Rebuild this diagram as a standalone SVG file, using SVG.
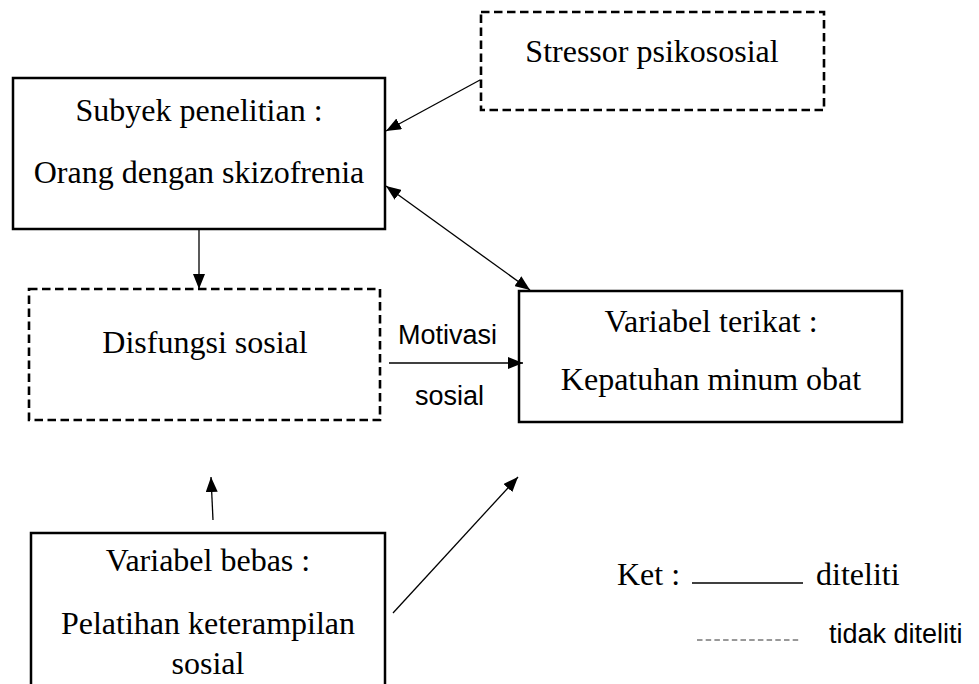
<svg xmlns="http://www.w3.org/2000/svg" width="979" height="684" viewBox="0 0 979 684">
  <style>
    .box { fill: #ffffff; stroke: #000000; stroke-width: 2.5; }
    .dbox { fill: none; stroke: #000000; stroke-width: 2.6; stroke-dasharray: 8.5 4.5; }
    .serif { font-family: "Liberation Serif", "Times New Roman", serif; font-size: 32px; fill: #000000; }
    .sans { font-family: "Liberation Sans", Arial, sans-serif; font-size: 27px; fill: #000000; }
    .conn { fill: none; stroke: #000000; stroke-width: 1.3; }
  </style>
  <defs>
    <marker id="ah" viewBox="0 0 15 12" refX="15" refY="6" markerWidth="15" markerHeight="12" markerUnits="userSpaceOnUse" orient="auto-start-reverse">
      <path d="M0,0 L15,6 L0,12 z" fill="#000000"/>
    </marker>
  </defs>
  <rect width="979" height="684" fill="#ffffff"/>

  <g id="stressor">
    <rect class="dbox" x="481" y="12" width="343" height="98"/>
    <text class="serif" x="652" y="62" text-anchor="middle">Stressor psikososial</text>
  </g>

  <g id="subyek">
    <rect class="box" x="13" y="78" width="372" height="151"/>
    <text class="serif" x="199" y="121" text-anchor="middle">Subyek penelitian :</text>
    <text class="serif" x="199" y="183" text-anchor="middle">Orang dengan skizofrenia</text>
  </g>

  <g id="disfungsi">
    <rect class="dbox" x="29" y="289" width="351" height="131"/>
    <text class="serif" x="205" y="353" text-anchor="middle">Disfungsi sosial</text>
  </g>

  <g id="terikat">
    <rect class="box" x="519" y="291" width="383" height="131"/>
    <text class="serif" x="711" y="332" text-anchor="middle">Variabel terikat :</text>
    <text class="serif" x="711" y="390" text-anchor="middle">Kepatuhan minum obat</text>
  </g>

  <g id="bebas">
    <rect class="box" x="31" y="533" width="354" height="180"/>
    <text class="serif" x="208" y="571" text-anchor="middle">Variabel bebas :</text>
    <text class="serif" x="208" y="634" text-anchor="middle">Pelatihan keterampilan</text>
    <text class="serif" x="208" y="674" text-anchor="middle">sosial</text>
  </g>

  <g id="connectors">
    <line class="conn" x1="480" y1="80" x2="386" y2="131" marker-end="url(#ah)"/>
    <line class="conn" x1="386" y1="186" x2="530" y2="290" marker-start="url(#ah)" marker-end="url(#ah)"/>
    <line class="conn" x1="199" y1="229" x2="199" y2="289" marker-end="url(#ah)"/>
    <line class="conn" x1="389" y1="363" x2="523" y2="363" marker-end="url(#ah)"/>
    <line class="conn" x1="213" y1="520" x2="211" y2="477" marker-end="url(#ah)"/>
    <line class="conn" x1="393" y1="613" x2="518" y2="477" marker-end="url(#ah)"/>
    <text class="sans" x="398" y="344">Motivasi</text>
    <text class="sans" x="415" y="405">sosial</text>
  </g>

  <g id="legend">
    <text class="serif" x="617" y="585">Ket :</text>
    <line x1="692" y1="583" x2="803" y2="583" stroke="#000000" stroke-width="1.5"/>
    <text class="serif" x="816" y="585">diteliti</text>
    <line x1="697" y1="640" x2="801" y2="640" stroke="#333333" stroke-width="1" stroke-dasharray="5.5 3.2"/>
    <text class="sans" x="829" y="643">tidak diteliti</text>
  </g>
</svg>
